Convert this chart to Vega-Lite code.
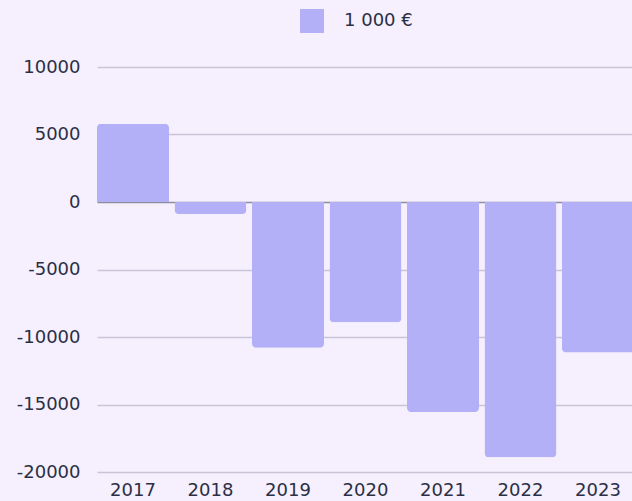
{
  "$schema": "https://vega.github.io/schema/vega-lite/v6.json",
  "width": 537,
  "height": 405,
  "autosize": {"type": "none"},
  "padding": {"left": 97, "top": 67, "right": 0, "bottom": 29},
  "background": "#f5effe",
  "config": {
    "view": {"stroke": null},
    "font": "DejaVu Sans",
    "axis": {"labelFont": "DejaVu Sans", "labelColor": "#2b2f45", "labelFontSize": 18, "labelFontWeight": "normal"}
  },
  "data": {
    "values": [
      {"year": "2017", "value": 5800, "series": "1 000 €"},
      {"year": "2018", "value": -880, "series": "1 000 €"},
      {"year": "2019", "value": -10800, "series": "1 000 €"},
      {"year": "2020", "value": -8900, "series": "1 000 €"},
      {"year": "2021", "value": -15550, "series": "1 000 €"},
      {"year": "2022", "value": -18900, "series": "1 000 €"},
      {"year": "2023", "value": -11150, "series": "1 000 €"}
    ]
  },
  "encoding": {
    "x": {
      "field": "year", "type": "nominal",
      "scale": {"paddingInner": 0.071, "paddingOuter": 0},
      "axis": {"title": null, "labelAngle": 0, "ticks": false, "domain": false, "labelPadding": 9, "grid": false}
    }
  },
  "layer": [
    {
      "transform": [{"filter": "datum.value >= 0"}],
      "mark": {"type": "bar", "cornerRadiusTopLeft": 4, "cornerRadiusTopRight": 4},
      "encoding": {
        "y": {
          "field": "value", "type": "quantitative",
          "scale": {"domain": [-20000, 10000], "nice": false},
          "axis": {"title": null, "ticks": false, "domain": false, "labelPadding": 17, "labelOverlap": false, "values": [-20000, -15000, -10000, -5000, 0, 5000, 10000], "labelExpr": "datum.value + ''", "gridColor": {"condition": {"test": "datum.value === 0", "value": "#8e8e9c"}, "value": "#c9c4d6"}, "gridWidth": 1.5}
        },
        "color": {
          "field": "series", "type": "nominal",
          "scale": {"range": ["#b3b0f7"]},
          "legend": {
            "title": null, "orient": "none", "legendX": 203, "legendY": -58,
            "direction": "horizontal", "symbolType": "square", "symbolSize": 576,
            "symbolStrokeWidth": 0, "symbolOpacity": 1, "labelFontSize": 18, "labelFont": "DejaVu Sans",
            "labelColor": "#2b2f45", "labelOffset": 20, "padding": 0
          }
        }
      }
    },
    {
      "transform": [{"filter": "datum.value < 0"}],
      "mark": {"type": "bar", "cornerRadiusBottomLeft": 4, "cornerRadiusBottomRight": 4},
      "encoding": {
        "y": {"field": "value", "type": "quantitative"},
        "color": {"field": "series", "type": "nominal"}
      }
    }
  ]
}
